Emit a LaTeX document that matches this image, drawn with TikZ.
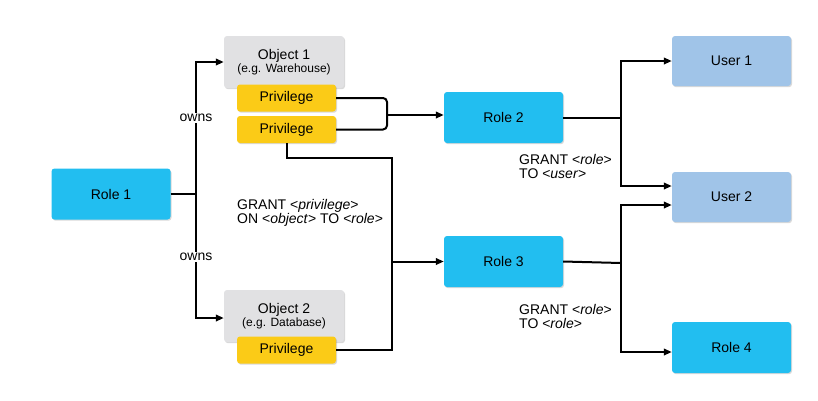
\documentclass[tikz,border=0pt]{standalone}
\usepackage{fontspec}
\setmainfont{Liberation Sans}
\usetikzlibrary{arrows.meta,shadows,calc}
\definecolor{roleblue}{HTML}{22BEF0}
\definecolor{userblue}{HTML}{A0C4E8}
\definecolor{objgray}{HTML}{E1E1E3}
\definecolor{privyellow}{HTML}{FBCB17}
\tikzset{
  box/.style={rectangle, rounded corners=3pt, inner sep=0pt, align=center,
    font=\fontsize{14}{14.5}\selectfont,
    drop shadow={shadow xshift=1pt, shadow yshift=-1.2pt, opacity=0.25, fill=black!60}},
  rolebox/.style={box, fill=roleblue, minimum width=119pt, minimum height=51pt},
  userbox/.style={box, fill=userblue, minimum width=119pt, minimum height=50pt},
  objbox/.style={box, fill=objgray, minimum width=120pt, minimum height=52pt},
  privbox/.style={box, fill=privyellow, minimum width=99pt, minimum height=27pt},
  conn/.style={line width=2pt, black},
  arr/.style={conn, -{Triangle[length=8pt,width=6.5pt]}},
  lbl/.style={font=\fontsize{14}{14}\selectfont, align=left, inner sep=0pt},
  ownslbl/.style={font=\fontsize{14}{14}\selectfont, fill=white, inner sep=1.5pt}
}
\begin{document}
\begin{tikzpicture}[x=1pt,y=-1pt]
\useasboundingbox (0,0) rectangle (818,400);
% nodes
\node[rolebox] (role1) at (111,194) {Role 1};
\node[objbox] (obj1) at (284,62) {Object 1\\[-1.5pt]{\fontsize{12}{12}\selectfont (e.g. Warehouse)}};
\node[objbox] (obj2) at (284,316) {Object 2\\[-1.5pt]{\fontsize{12}{12}\selectfont (e.g. Database)}};
\node[privbox] (priv1) at (286.5,98) {Privilege};
\node[privbox] (priv2) at (286.5,129.5) {Privilege};
\node[privbox] (priv3) at (286.5,350) {Privilege};
\node[rolebox] (role2) at (503.5,117.5) {Role 2};
\node[rolebox] (role3) at (503.5,261.5) {Role 3};
\node[userbox] (user1) at (731.5,61) {User 1};
\node[userbox] (user2) at (731.5,197) {User 2};
\node[rolebox] (role4) at (731.5,347.5) {Role 4};
% role1 owns objects
\coordinate (j1) at (196,194);
\draw[conn] (role1.east) -- (j1);
\draw[arr] (j1) |- (obj1.west);
\draw[arr] (j1) |- ([yshift=-2pt]obj2.west);
\node[ownslbl] (owns1) at (196,118) {owns};
\node[ownslbl] (owns2) at (196,257) {owns};
% privileges of object 1 to role 2
\coordinate (j2) at (387,115);
\draw[conn, rounded corners=4pt] (priv1.east) -- (387,98) -- (387,129.5) -- (priv2.east);
\draw[arr] (j2) -- (j2 -| role2.west);
% privilege paths to role 3
\coordinate (j3) at (392,261.5);
\draw[conn] (priv2.south) |- (392,157.5) |- (priv3.east);
\draw[arr] (j3) -- (role3.west);
\node[lbl, anchor=west] (g1) at (237,212.5) {GRANT <\textit{privilege}>\\ON <\textit{object}> TO <\textit{role}>};
% role 2 to users
\coordinate (j4) at (621,117.5);
\draw[conn] (role2.east) -- (j4);
\draw[arr] (j4) |- (user1.west);
\draw[arr] (j4) |- ([yshift=11pt]user2.west);
\node[lbl, anchor=west] (g2) at (519,166) {GRANT <\textit{role}>\\TO <\textit{user}>};
% role 3 to user 2 and role 4
\coordinate (j5) at (621,263);
\draw[conn] (role3.east) -- (j5);
\draw[arr] (j5) |- ([yshift=-8pt]user2.west);
\draw[arr] (j5) |- ([yshift=-4.5pt]role4.west);
\node[lbl, anchor=west] (g3) at (519,316) {GRANT <\textit{role}>\\TO <\textit{role}>};
\end{tikzpicture}
\end{document}
